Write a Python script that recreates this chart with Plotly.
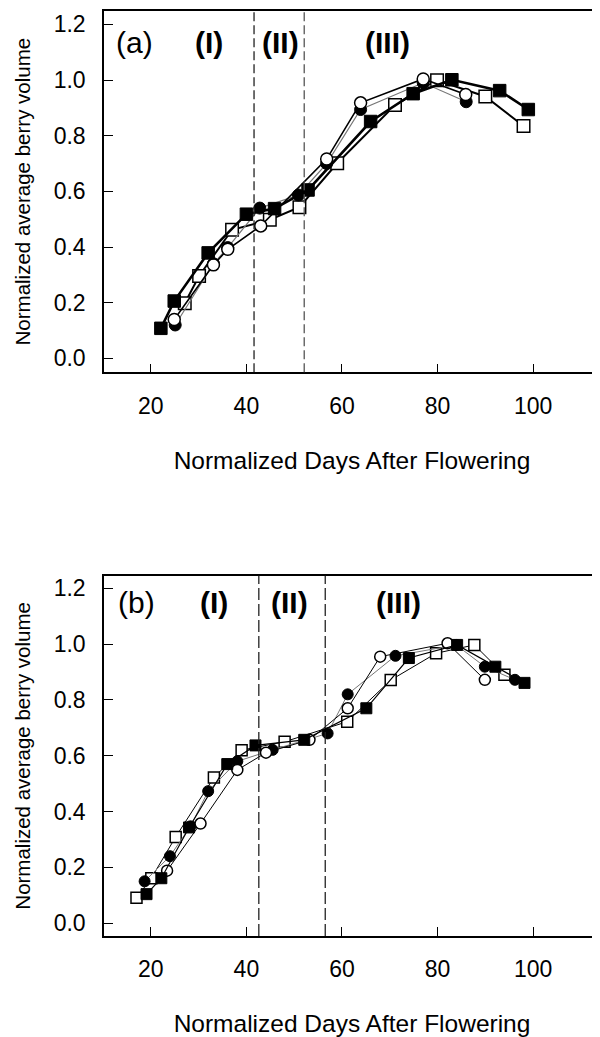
import plotly.graph_objects as go

# ---------------- data: panel (a) ----------------
a_fsq_x = [22.1, 24.9, 32.0, 40.0, 45.9, 52.9, 66.0, 74.9, 83.0, 93.0, 99.0]
a_fsq_y = [0.108, 0.206, 0.379, 0.518, 0.538, 0.605, 0.851, 0.951, 1.001, 0.962, 0.894]
a_osq_x = [27.1, 30.1, 37.0, 44.9, 51.1, 59.0, 71.1, 79.9, 90.0, 98.0]
a_osq_y = [0.198, 0.296, 0.462, 0.498, 0.543, 0.701, 0.910, 0.999, 0.941, 0.835]
a_fci_x = [25.1, 33.1, 36.1, 42.8, 50.9, 56.8, 63.9, 77.0, 86.0]
a_fci_y = [0.120, 0.340, 0.398, 0.540, 0.587, 0.700, 0.894, 0.990, 0.922]
a_oci_x = [24.9, 33.1, 36.1, 43.0, 56.8, 63.9, 77.0, 85.9]
a_oci_y = [0.140, 0.336, 0.392, 0.476, 0.716, 0.918, 1.004, 0.948]
a_phase_bounds = [41.6, 52.1]

# ---------------- data: panel (b) ----------------
b_fsq_x = [19.1, 22.2, 28.0, 36.0, 41.9, 52.1, 65.1, 74.0, 84.1, 92.1, 98.2]
b_fsq_y = [0.104, 0.161, 0.343, 0.570, 0.637, 0.657, 0.770, 0.950, 0.997, 0.919, 0.861]
b_osq_x = [17.0, 20.1, 25.2, 33.2, 39.0, 48.0, 61.1, 70.2, 79.7, 87.7, 94.0]
b_osq_y = [0.091, 0.161, 0.309, 0.522, 0.620, 0.650, 0.722, 0.871, 0.967, 0.997, 0.890]
b_fci_x = [18.7, 24.0, 28.3, 32.0, 38.1, 45.5, 57.0, 61.2, 71.2, 83.9, 89.9, 96.2]
b_fci_y = [0.150, 0.240, 0.347, 0.473, 0.580, 0.621, 0.680, 0.820, 0.958, 0.997, 0.919, 0.872]
b_oci_x = [23.4, 30.4, 38.1, 44.1, 53.2, 61.2, 68.0, 82.1, 89.9]
b_oci_y = [0.188, 0.357, 0.549, 0.611, 0.657, 0.770, 0.955, 1.003, 0.872]
b_phase_bounds = [42.6, 56.5]

x_ticks = [20, 40, 60, 80, 100]
y_ticks = [0.0, 0.2, 0.4, 0.6, 0.8, 1.0, 1.2]
phase_labels = ["(I)", "(II)", "(III)"]
x_title = "Normalized Days After Flowering"
y_title = "Normalized average berry volume"

FONT = "Liberation Sans, Arial, Helvetica, sans-serif"

fig = go.Figure()


def add_panel(xa, ya, osq, fci, oci, fsq, widths, msize):
    lw_osq, lw_fci, lw_oci, lw_fsq = widths
    sq, ci = msize
    fig.add_trace(go.Scatter(x=osq[0], y=osq[1], mode="lines+markers", xaxis=xa, yaxis=ya,
                             line=dict(color="black", width=lw_osq),
                             marker=dict(symbol="square", size=sq, color="white",
                                         line=dict(color="black", width=1.5)),
                             showlegend=False))
    fig.add_trace(go.Scatter(x=fci[0], y=fci[1], mode="lines+markers", xaxis=xa, yaxis=ya,
                             line=dict(color="#777777", width=lw_fci),
                             marker=dict(symbol="circle", size=ci, color="black",
                                         line=dict(color="black", width=1)),
                             showlegend=False))
    fig.add_trace(go.Scatter(x=oci[0], y=oci[1], mode="lines+markers", xaxis=xa, yaxis=ya,
                             line=dict(color="black", width=lw_oci),
                             marker=dict(symbol="circle", size=ci, color="white",
                                         line=dict(color="black", width=1.5)),
                             showlegend=False))
    fig.add_trace(go.Scatter(x=fsq[0], y=fsq[1], mode="lines+markers", xaxis=xa, yaxis=ya,
                             line=dict(color="black", width=lw_fsq),
                             marker=dict(symbol="square", size=sq, color="black",
                                         line=dict(color="black", width=1)),
                             showlegend=False))


add_panel("x", "y", (a_osq_x, a_osq_y), (a_fci_x, a_fci_y), (a_oci_x, a_oci_y),
          (a_fsq_x, a_fsq_y), (2.0, 1.2, 1.6, 2.6), (12.5, 12))
add_panel("x2", "y2", (b_osq_x, b_osq_y), (b_fci_x, b_fci_y), (b_oci_x, b_oci_y),
          (b_fsq_x, b_fsq_y), (1.0, 1.0, 1.0, 1.2), (11, 11))

xcommon = dict(range=[10.2, 114.0], tickvals=x_ticks, ticks="inside", ticklen=9,
               tickwidth=1, tickcolor="black", showline=True, linecolor="black",
               linewidth=1.5, mirror=True, showgrid=False, zeroline=False,
               tickfont=dict(family=FONT, size=23, color="black"),
               ticklabelstandoff=12,
               title=dict(text=x_title, font=dict(family=FONT, size=24.5, color="black"),
                          standoff=34))
ycommon = dict(tickvals=y_ticks, tickformat=".1f", ticks="inside", ticklen=9,
               tickwidth=1, tickcolor="black", showline=True, linecolor="black",
               linewidth=1.5, mirror=False, showgrid=False, zeroline=False,
               tickfont=dict(family=FONT, size=23, color="black"),
               ticklabelstandoff=12,
               title=dict(text=y_title, font=dict(family=FONT, size=20.5, color="black"),
                          standoff=17))

# page body has an 8px default margin, so the figure is sized 8px smaller
fig.update_layout(
    width=592, height=1029,
    margin=dict(l=96, r=0, t=3, b=101),
    paper_bgcolor="white", plot_bgcolor="white",
    xaxis=dict(xcommon, anchor="y", domain=[0, 1]),
    yaxis=dict(ycommon, anchor="x", domain=[0.6094, 1.0], range=[-0.050, 1.248]),
    xaxis2=dict(xcommon, anchor="y2", domain=[0, 1]),
    yaxis2=dict(ycommon, anchor="x2", domain=[0.0, 0.3895], range=[-0.046, 1.245]),
)

shapes = []
for xv, col in zip(a_phase_bounds, ["#222222", "#555555"]):
    shapes.append(dict(type="line", xref="x", yref="y domain", x0=xv, x1=xv, y0=0, y1=1,
                       line=dict(color=col, width=1.3, dash="9px,4px")))
for xv in b_phase_bounds:
    shapes.append(dict(type="line", xref="x2", yref="y2 domain", x0=xv, x1=xv, y0=0, y1=1,
                       line=dict(color="#222222", width=1.3, dash="12px,4px")))
fig.update_layout(shapes=shapes)

ann = []
ann.append(dict(x=16.6, y=1.135, xref="x", yref="y", text="(a)", showarrow=False,
                font=dict(family=FONT, size=30, color="black")))
for xv, t in zip([32.2, 47.1, 69.5], phase_labels):
    ann.append(dict(x=xv, y=1.135, xref="x", yref="y", text="<b>" + t + "</b>", showarrow=False,
                    font=dict(family=FONT, size=30, color="black")))
ann.append(dict(x=16.9, y=1.15, xref="x2", yref="y2", text="(b)", showarrow=False,
                font=dict(family=FONT, size=30, color="black")))
for xv, t in zip([33.2, 49.0, 71.9], phase_labels):
    ann.append(dict(x=xv, y=1.15, xref="x2", yref="y2", text="<b>" + t + "</b>", showarrow=False,
                    font=dict(family=FONT, size=30, color="black")))
fig.update_layout(annotations=ann)

fig.write_html("out.html")
